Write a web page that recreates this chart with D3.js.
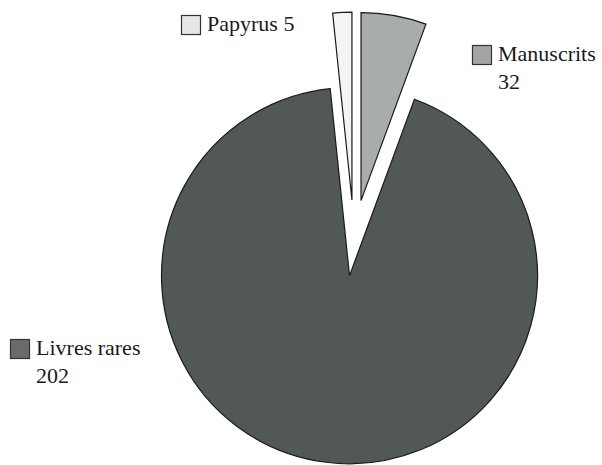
<!DOCTYPE html>
<html><head><meta charset="utf-8">
<script src="https://cdn.jsdelivr.net/npm/d3@7"></script>
<style>body{margin:0;background:#fff}svg{display:block}</style>
</head><body>
<script>
// Data (order as drawn clockwise from 12 o'clock)
const categories = ["Manuscrits", "Livres rares", "Papyrus"];
const labelValues = [32, 202, 5];
// slice angular sizes (degrees)
const sliceSizes = [20.2, 333.9, 5.9];
const sliceColors = ["#a8acaa", "#525857", "#f3f4f3"];
const legendColors = ["#a4a4a7", "#6a6a6a", "#e6e7e6"];
const explode = [40, 36, 40];

const W = 602, H = 465;
const svg = d3.select("body").append("svg").attr("width", W).attr("height", H);
const cx = 354, cy = 240, R = 188;

const pie = d3.pie().sort(null).value(d => d)(sliceSizes);
const arc = d3.arc().innerRadius(0).outerRadius(R);

const g = svg.append("g").attr("transform", `translate(${cx},${cy})`);
g.selectAll("path").data(pie).join("path")
  .attr("d", arc)
  .attr("transform", (d, i) => {
    const a = (d.startAngle + d.endAngle) / 2;
    return `translate(${Math.sin(a) * explode[i]},${-Math.cos(a) * explode[i]})`;
  })
  .attr("fill", (d, i) => sliceColors[i])
  .attr("stroke", "#1a1a1a").attr("stroke-width", 1.2).attr("stroke-linejoin", "miter");

// Legend-style labels
const labels = [
  {i: 0, x: 472, y: 45, lines: [categories[0], String(labelValues[0])]},
  {i: 1, x: 10, y: 339, lines: [categories[1], String(labelValues[1])]},
  {i: 2, x: 181, y: 15, lines: [categories[2] + " " + labelValues[2]]}
];
labels.forEach(l => {
  svg.append("rect").attr("x", l.x + 0.5).attr("y", l.y + 0.5).attr("width", 19).attr("height", 19)
    .attr("fill", legendColors[l.i]).attr("stroke", "#333").attr("stroke-width", 1.2);
  const t = svg.append("text").attr("x", l.x + 26).attr("y", l.y + 16)
    .style("font-family", "'Liberation Serif', 'Times New Roman', serif")
    .style("font-size", "22px").style("fill", "#1a1a1a");
  l.lines.forEach((s, k) => t.append("tspan").attr("x", l.x + 26).attr("dy", k ? 28 : 0).text(s));
});
</script>
</body></html>
